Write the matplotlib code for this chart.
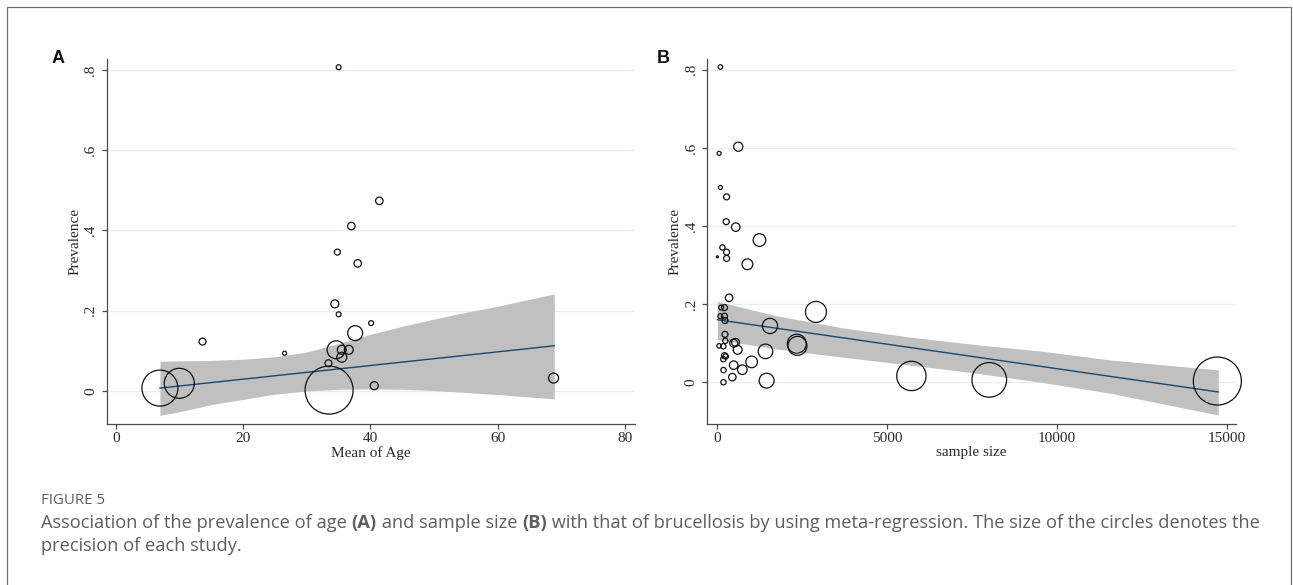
import matplotlib
matplotlib.use("Agg")
import matplotlib.pyplot as plt
from matplotlib.patches import Rectangle

# ---------------- data ----------------
# Panel A: mean age vs prevalence (circle weight = study precision)
age_x = [35.0, 41.4, 37.0, 34.8, 38.0, 34.4, 35.0, 40.1, 13.6, 26.5, 37.6, 34.6,
         35.5, 36.6, 35.5, 33.4, 40.6, 68.8, 6.9, 9.95, 33.5]
age_y = [0.807, 0.474, 0.411, 0.346, 0.318, 0.217, 0.191, 0.169, 0.123, 0.094, 0.144, 0.1025,
         0.1025, 0.1025, 0.084, 0.069, 0.013, 0.032, 0.007, 0.019, 0.002]
age_w = [6, 14, 14, 9, 14, 16, 6, 6, 12, 4, 56, 81,
         20, 20, 25, 12, 16, 25, 324, 225, 576]
age_fit_x = [6.9, 68.9]
age_fit_y = [0.007, 0.1125]
age_band_x = [6.9, 10, 15, 20, 25, 30, 35, 40, 45, 50, 55, 60, 68.9]
age_band_lo = [-0.061, -0.052, -0.034, -0.021, -0.008, 0.0, 0.004, 0.005, 0.004, 0.001, -0.004, -0.009, -0.02]
age_band_hi = [0.074, 0.075, 0.076, 0.079, 0.085, 0.097, 0.118, 0.141, 0.161, 0.179, 0.196, 0.211, 0.242]

# Panel B: sample size vs prevalence
ss_x = [98, 61, 625, 98, 282, 270, 551, 1249, 159, 282, 282, 12, 894, 355, 120, 220,
        98, 220, 233, 2909, 1557, 234, 245, 61, 184, 490, 545, 607, 1425, 2345, 2365,
        220, 257, 184, 1018, 490, 745, 190, 450, 190, 1459, 5715, 8005, 14710]
ss_y = [0.807, 0.586, 0.603, 0.4985, 0.4745, 0.411, 0.397, 0.364, 0.345, 0.333, 0.317, 0.321,
        0.302, 0.216, 0.191, 0.191, 0.169, 0.169, 0.158, 0.180, 0.144, 0.1225, 0.106, 0.093,
        0.092, 0.100, 0.102, 0.083, 0.079, 0.0985, 0.093, 0.068, 0.066, 0.059, 0.052, 0.0437,
        0.032, 0.031, 0.013, 0.0, 0.004, 0.016, 0.006, 0.003]
ss_w = [5, 4, 21, 4, 9, 9, 18, 40, 7, 9, 9, 1, 29, 14, 6, 9,
        6, 9, 9, 110, 58, 9, 7, 5, 7, 16, 16, 20, 53, 90, 90,
        9, 7, 7, 34, 18, 23, 7, 14, 7, 55, 216, 300, 576]
ss_fit_x = [12, 14738]
ss_fit_y = [0.160, -0.025]
ss_band_x = [12, 1753, 3712, 5672, 7632, 9592, 11552, 14738]
ss_band_lo = [0.109, 0.085, 0.064, 0.044, 0.023, -0.001, -0.028, -0.084]
ss_band_hi = [0.207, 0.170, 0.139, 0.1155, 0.096, 0.079, 0.057, 0.0316]

yticks = [0, 0.2, 0.4, 0.6, 0.8]
ytick_labels = ["0", ".2", ".4", ".6", ".8"]
age_xticks = [0, 20, 40, 60, 80]
ss_xticks = [0, 5000, 10000, 15000]

caption_title = "FIGURE 5"
caption_parts = [("Association of the prevalence of age ", "normal"), ("(A)", "bold"),
                 (" and sample size ", "normal"), ("(B)", "bold"),
                 (" with that of brucellosis by using meta-regression. The size of the circles denotes the", "normal")]
caption_line2 = "precision of each study."

# ---------------- figure ----------------
W, H = 1293, 585
fig = plt.figure(figsize=(W / 100, H / 100), dpi=100)
fig.patch.set_facecolor("white")

SERIF = ["Liberation Serif", "DejaVu Serif"]
TXT = "#2a2a2a"
AX = "#4a4a4a"
GRID = "#e6eef0"
BAND = "#c1c0c0"
LINE = "#1a476f"

def px(x, y):
    return x / W, 1 - y / H

def make_panel(rect, xs, ys, ws, fx, fy, bx, blo, bhi, xlim, ylim, xticks, xlabel):
    ax = fig.add_axes(rect)
    ax.set_xlim(*xlim)
    ax.set_ylim(*ylim)
    for s in ["top", "right"]:
        ax.spines[s].set_visible(False)
    for s in ["left", "bottom"]:
        ax.spines[s].set_color(AX)
        ax.spines[s].set_linewidth(0.9)
    for yv in yticks:
        ax.axhline(yv, color=GRID, lw=0.9, zorder=0)
    ax.fill_between(bx, blo, bhi, color=BAND, lw=0, zorder=1)
    ax.plot(fx, fy, color=LINE, lw=1.0, zorder=2)
    sizes = [w * (2 * 0.72) ** 2 for w in ws]
    ax.scatter(xs, ys, s=sizes, facecolors="none", edgecolors="#111111", linewidths=0.9,
               zorder=3, clip_on=False)
    ax.set_xticks(xticks)
    ax.set_xticklabels([str(t) for t in xticks], fontfamily=SERIF, fontsize=11, color=TXT)
    ax.set_yticks(yticks)
    ax.set_yticklabels(ytick_labels, fontfamily=SERIF, fontsize=11, color=TXT,
                       rotation=90, va="center")
    ax.tick_params(axis="both", direction="out", length=3.5, width=0.9, color=AX)
    ax.tick_params(axis="x", pad=2)
    ax.tick_params(axis="y", pad=3)
    ax.set_xlabel(xlabel, fontfamily=SERIF, fontsize=11, color=TXT, labelpad=1)
    ax.set_ylabel("Prevalence", fontfamily=SERIF, fontsize=11, color=TXT, labelpad=2)
    ax.set_facecolor("white")
    return ax

bottom = 1 - 424 / H
height = (424 - 59) / H
axA = make_panel([106.5 / W, bottom, (635 - 106.5) / W, height],
                 age_x, age_y, age_w, age_fit_x, age_fit_y,
                 age_band_x, age_band_lo, age_band_hi,
                 (-1.5, 81.6), (-0.0825, 0.8275), age_xticks, "Mean of Age")
axB = make_panel([706.6 / W, bottom, (1236.4 - 706.6) / W, height],
                 ss_x, ss_y, ss_w, ss_fit_x, ss_fit_y,
                 ss_band_x, ss_band_lo, ss_band_hi,
                 (-306, 15270), (-0.107, 0.8275), ss_xticks, "sample size")

LAB = ["Liberation Sans", "DejaVu Sans"]
fig.text(*px(52, 63), "A", fontfamily=LAB, fontweight="bold", fontsize=13, color="#111111",
         ha="left", va="baseline")
fig.text(*px(657, 63), "B", fontfamily=LAB, fontweight="bold", fontsize=13, color="#111111",
         ha="left", va="baseline")

# outer frame (bottom edge outside the image)
fig.patches.append(Rectangle((7 / W, -0.1), (1291 - 7) / W, 1 - 7 / H + 0.1,
                             transform=fig.transFigure, fill=False,
                             edgecolor="#707070", lw=0.9))

# ---------------- caption ----------------
CAP = ["Open Sans", "DejaVu Sans"]
CAPC = "#5e5e5e"
renderer = fig.canvas.get_renderer()

def text_width(s, size, weight):
    t = fig.text(0, 0, s, fontfamily=CAP, fontsize=size, fontweight=weight)
    w = t.get_window_extent(renderer).width
    t.remove()
    return w

def seg_width(s, size, weight):
    # width including leading/trailing spaces
    return text_width("|" + s + "|", size, weight) - text_width("||", size, weight)

def fit_size(parts, target):
    base = 12.0
    total = sum(seg_width(s, base, w) for s, w in parts)
    return base * target / total

size1 = fit_size(caption_parts, 1258 - 41)
x = 41.0
y1 = 1 - 523 / H
for s, wgt in caption_parts:
    fig.text(x / W, y1, s, fontfamily=CAP, fontsize=size1, fontweight=wgt,
             color=CAPC, ha="left", va="center")
    x += seg_width(s, size1, wgt)
fig.text(41 / W, 1 - 546 / H, caption_line2, fontfamily=CAP, fontsize=size1,
         color=CAPC, ha="left", va="center")
sizeT = fit_size([(caption_title, "normal")], 64)
fig.text(41 / W, 1 - 500 / H, caption_title, fontfamily=CAP, fontsize=sizeT,
         color=CAPC, ha="left", va="center")

fig.savefig("out.png", dpi=100, facecolor="white")
